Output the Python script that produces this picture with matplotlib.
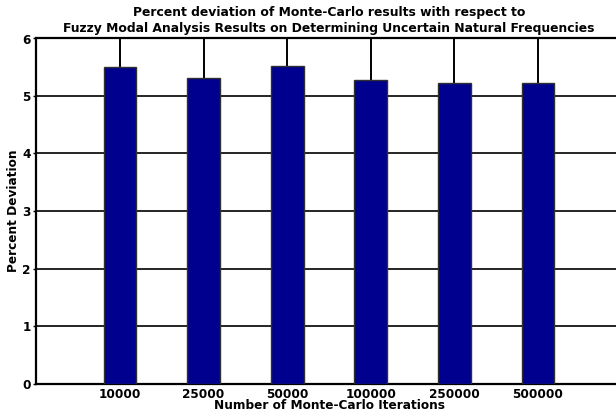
import matplotlib
matplotlib.use("Agg")
import matplotlib.pyplot as plt
import numpy as np

iterations = ["10000", "25000", "50000", "100000", "250000", "500000"]
percent_dev = [5.51, 5.31, 5.52, 5.28, 5.23, 5.23]
upper_err = [1.0, 1.0, 1.0, 1.0, 1.0, 1.0]

plt.rcParams["font.family"] = ["DejaVu Sans"]
plt.rcParams["font.weight"] = "bold"

fig = plt.figure(figsize=(6.16, 4.19), dpi=100)
W, H = 616, 419
ax = fig.add_axes([36.4 / W, 1 - 383.5 / H, (621.6 - 36.4) / W, (383.5 - 38.5) / H])

x = np.arange(1, len(iterations) + 1)
ax.bar(x, percent_dev, width=0.39, color="#00008e", edgecolor="#303030",
       linewidth=1.0, zorder=3)
ax.errorbar(x, percent_dev, yerr=[np.zeros(len(x)), upper_err], fmt="none",
            ecolor="black", elinewidth=1.4, capsize=0, zorder=2)

ax.set_xlim(0, 7)
ax.set_ylim(0, 6)
ax.set_yticks(range(0, 7))
ax.set_xticks(x)
ax.set_xticklabels(iterations)
ax.yaxis.grid(True, color="black", linewidth=1.2, zorder=1)
ax.set_axisbelow(True)
ax.tick_params(axis="x", length=0, labelsize=8.7, pad=3)
ax.tick_params(axis="y", length=2, width=1, direction="out", labelsize=8.7, pad=2)
for lbl in ax.get_xticklabels() + ax.get_yticklabels():
    lbl.set_fontweight("bold")

for side in ("left", "bottom", "top"):
    ax.spines[side].set_linewidth(1.6)
    ax.spines[side].set_color("black")
ax.spines["right"].set_visible(False)

ax.set_xlabel("Number of Monte-Carlo Iterations", fontsize=8.7, fontweight="bold", labelpad=-1)
ax.set_ylabel("Percent Deviation", fontsize=8.7, fontweight="bold", labelpad=2)
ax.set_title("Percent deviation of Monte-Carlo results with respect to\n"
             "Fuzzy Modal Analysis Results on Determining Uncertain Natural Frequencies",
             fontsize=8.9, fontweight="bold", pad=5, linespacing=1.25)

fig.savefig("out.png", dpi=100)
